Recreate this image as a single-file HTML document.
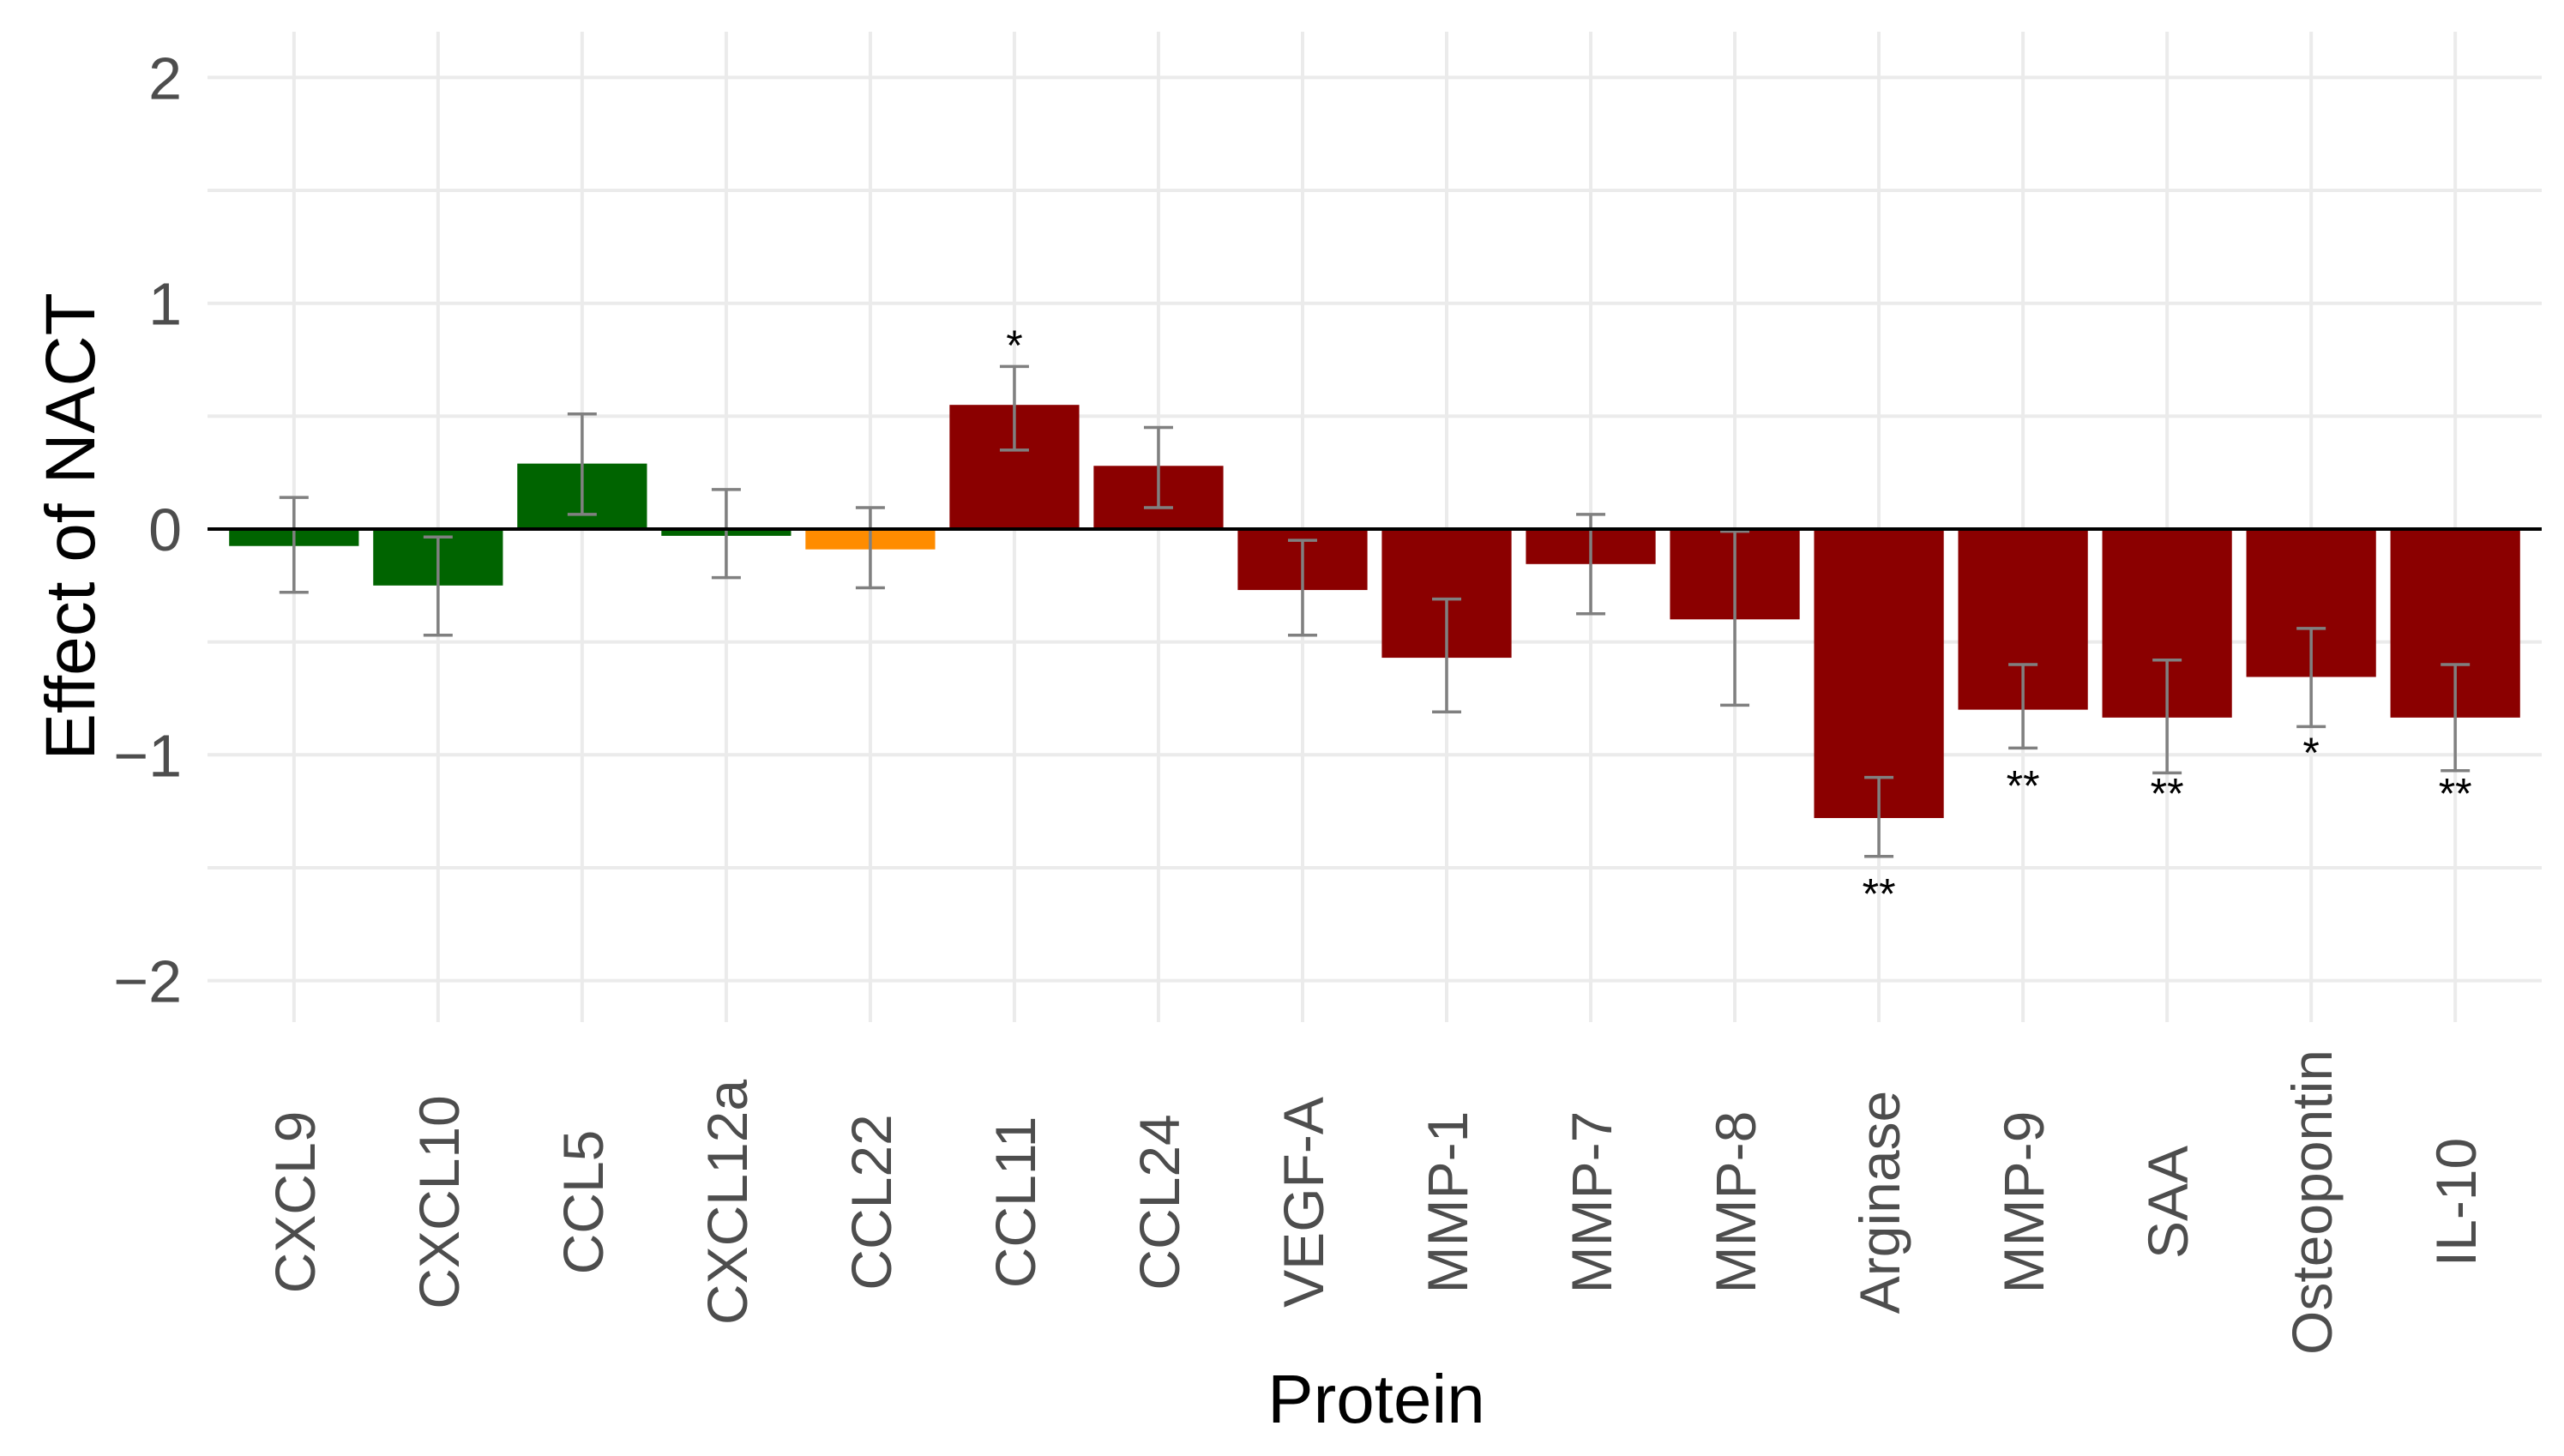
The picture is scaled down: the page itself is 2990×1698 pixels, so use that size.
<!DOCTYPE html>
<html><head><meta charset="utf-8"><style>
html,body{margin:0;padding:0;background:#fff;}
svg{display:block;font-family:"Liberation Sans",Arial,sans-serif;}
</style></head><body>
<svg id="chart" width="2990" height="1698" viewBox="0 0 2990 1698" xmlns="http://www.w3.org/2000/svg">
<g id="grid"></g>
<g id="bars"></g>
<g id="errs"></g>
<g id="stars"></g>
<g id="yticks"></g>
<g id="xticks"></g>
<text transform="translate(110,614) rotate(-90)" text-anchor="middle" font-size="82" fill="#000">Effect of NACT</text>
<text x="1605" y="1659" text-anchor="middle" font-size="80" fill="#000">Protein</text>
</svg>
<script>
const categories = ["CXCL9","CXCL10","CCL5","CXCL12a","CCL22","CCL11","CCL24","VEGF-A","MMP-1","MMP-7","MMP-8","Arginase","MMP-9","SAA","Osteopontin","IL-10"];
const values = [-0.075,-0.25,0.29,-0.03,-0.09,0.55,0.28,-0.27,-0.57,-0.155,-0.40,-1.28,-0.80,-0.835,-0.655,-0.835];
const errUpper = [0.14,-0.035,0.51,0.175,0.095,0.72,0.45,-0.05,-0.31,0.065,-0.01,-1.10,-0.60,-0.58,-0.44,-0.60];
const errLower = [-0.28,-0.47,0.065,-0.215,-0.26,0.35,0.095,-0.47,-0.81,-0.375,-0.78,-1.45,-0.97,-1.08,-0.875,-1.07];
const groups = ["g","g","g","g","o","r","r","r","r","r","r","r","r","r","r","r"];
const stars = ["","","","","","*","","","","","","**","**","**","*","**"];
const yTicks = [2,1,0,-1,-2];
const yMinor = [1.5,0.5,-0.5,-1.5];

const NS="http://www.w3.org/2000/svg";
const colors={g:"#006400",o:"#FF8C00",r:"#8B0000"};
const plotL=242, plotR=2964, gridTop=37, gridBot=1192;
const bandStep=(plotR-plotL)/(categories.length-1+1.2);
function xPos(i){return plotL+bandStep*(0.6+i);}
const y0=617, unit=263.3;
function yPos(v){return y0-v*unit;}
function mk(tag,attrs,parent){const e=document.createElementNS(NS,tag);for(const k in attrs)e.setAttribute(k,attrs[k]);parent.appendChild(e);return e;}

const grid=document.getElementById('grid');
yMinor.concat(yTicks).forEach(v=>{
  const l=mk('line',{x1:plotL,x2:plotR,y1:yPos(v),y2:yPos(v),stroke:"#ebebeb","stroke-width":4},grid);
  
  
});
categories.forEach((c,i)=>{
  const l=mk('line',{x1:xPos(i),x2:xPos(i),y1:gridTop,y2:gridBot,stroke:"#ebebeb","stroke-width":4},grid);
  
  
});
const yt=document.getElementById('yticks');
yTicks.forEach(v=>{
  const t=mk('text',{x:212,y:yPos(v)+25,"text-anchor":"end","font-size":70,fill:"#4d4d4d"},yt);
  t.textContent=(v<0?"\u2212":"")+Math.abs(v);
  
  
});
const bars=document.getElementById('bars'), errs=document.getElementById('errs'), st=document.getElementById('stars'), xt=document.getElementById('xticks');
const bw=bandStep*0.9, cw=34;
categories.forEach((c,i)=>{
  const x=xPos(i), v=values[i];
  const top=Math.min(yPos(v),y0), h=Math.abs(yPos(v)-y0);
  const b=mk('rect',{x:x-bw/2,y:top,width:bw,height:h,fill:colors[groups[i]]},bars);
  
  
  const g=mk('g',{stroke:"#808080","stroke-width":3.5},errs);
  
  
  mk('line',{x1:x,x2:x,y1:yPos(errUpper[i]),y2:yPos(errLower[i])},g);
  mk('line',{x1:x-cw/2,x2:x+cw/2,y1:yPos(errUpper[i]),y2:yPos(errUpper[i])},g);
  mk('line',{x1:x-cw/2,x2:x+cw/2,y1:yPos(errLower[i]),y2:yPos(errLower[i])},g);
  if(stars[i]){
    const sv=v>0? v+0.29 : v-0.31;
    const t=mk('text',{x:x,y:yPos(sv)+24,"text-anchor":"middle","font-size":50,fill:"#000"},st);
    t.textContent=stars[i];
    
    
  }
  const t=mk('text',{transform:`translate(${x+24},1402) rotate(-90)`,"text-anchor":"middle","font-size":66,fill:"#4d4d4d"},xt);
  t.textContent=c;
  
  
});
const z=mk('line',{x1:plotL,x2:plotR,y1:y0,y2:y0,stroke:"#000","stroke-width":4},document.getElementById('chart'));


</script>
</body></html>
